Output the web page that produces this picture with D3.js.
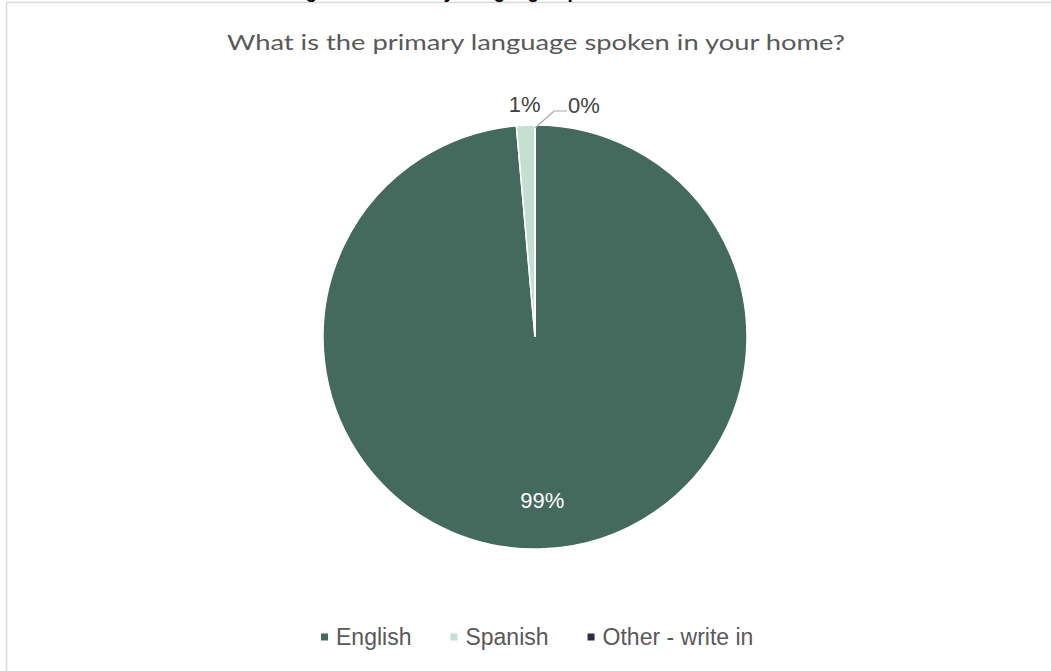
<!DOCTYPE html>
<html>
<head>
<meta charset="utf-8">
<script src="https://cdn.jsdelivr.net/npm/d3@7"></script>
<style>
  body { margin: 0; background: #fff; }
  svg { display: block; }
</style>
</head>
<body>
<svg id="chart"></svg>
<script>
const W = 1051, H = 671;

// data
const languages = ['English', 'Spanish', 'Other - write in'];
const shares = [98.6, 1.4, 0];
const pctLabels = ['99%', '1%', '0%'];
const colors = ['#44695d', '#c4dfd1', '#2c2d47'];

const titleText = 'Figure 14. Primary Language Spoken in the Home';
const subtitleText = 'What is the primary language spoken in your home?';

const cx = 535, cy = 337, radius = 212;

const svg = d3.select('#chart').attr('width', W).attr('height', H);

// chart frame (runs off the right and bottom)
svg.append('rect')
  .attr('x', 6.5).attr('y', 2.5)
  .attr('width', W + 20).attr('height', H + 20)
  .attr('fill', '#fff')
  .attr('stroke', '#d9d9d9')
  .attr('stroke-width', 1.5);

// report title sits above the crop, only descenders show
svg.append('text')
  .attr('x', 513).attr('y', -2)
  .attr('text-anchor', 'middle')
  .style('font-family', 'Liberation Sans, Arial, sans-serif')
  .style('font-weight', 'bold')
  .style('font-size', '19px')
  .attr('fill', '#000')
  .text(titleText);

svg.append('text')
  .attr('x', cx + 1).attr('y', 50)
  .attr('text-anchor', 'middle')
  .style('font-family', 'Lato, sans-serif')
  .style('font-size', '22px')
  .attr('fill', '#595959')
  .attr('textLength', 618)
  .attr('lengthAdjust', 'spacingAndGlyphs')
  .text(subtitleText);

const data = languages.map((name, i) => ({ name, value: shares[i], label: pctLabels[i], color: colors[i] }));

const pie = d3.pie().sort(null).value(d => d.value);
const arcs = pie(data);
const arc = d3.arc().innerRadius(0).outerRadius(radius);

const g = svg.append('g').attr('transform', `translate(${cx},${cy})`);

g.selectAll('path.slice')
  .data(arcs)
  .enter()
  .append('path')
  .attr('class', 'slice')
  .attr('d', arc)
  .attr('fill', d => d.data.color)
  .attr('stroke', '#fff')
  .attr('stroke-width', 1.5);

// labels
const insideArc = d3.arc().innerRadius(radius * 0.77).outerRadius(radius * 0.77);
const outsideArc = d3.arc().innerRadius(radius + 21).outerRadius(radius + 21);
const edgeArc = d3.arc().innerRadius(radius - 3).outerRadius(radius - 3);

const labelFont = 'Liberation Sans, Arial, sans-serif';

arcs.forEach((d, i) => {
  if (i === 0) {
    const [x, y] = insideArc.centroid(d);
    g.append('text')
      .attr('x', x).attr('y', y)
      .attr('text-anchor', 'middle')
      .attr('dominant-baseline', 'central')
      .style('font-family', labelFont)
      .style('font-size', '22px')
      .attr('fill', '#fff')
      .text(d.data.label);
  } else if (i === 1) {
    const [x, y] = outsideArc.centroid(d);
    g.append('text')
      .attr('x', x).attr('y', y)
      .attr('text-anchor', 'middle')
      .attr('dominant-baseline', 'central')
      .style('font-family', labelFont)
      .style('font-size', '22px')
      .attr('fill', '#404040')
      .text(d.data.label);
  } else {
    // zero slice, label pulled out with a leader line
    const [x0, y0] = edgeArc.centroid(d);
    const elbow = [x0 + 19, y0 - 17];
    const end = [x0 + 32, y0 - 17];
    g.append('polyline')
      .attr('points', [[x0, y0], elbow, end].map(p => p.join(',')).join(' '))
      .attr('fill', 'none')
      .attr('stroke', '#a6a6a6')
      .attr('stroke-width', 1.2);
    g.append('text')
      .attr('x', end[0] + 1).attr('y', end[1] - 6)
      .attr('dominant-baseline', 'central')
      .style('font-family', labelFont)
      .style('font-size', '22px')
      .attr('fill', '#404040')
      .text(d.data.label);
  }
});

// legend
const legend = svg.append('g').attr('transform', 'translate(0,637)');
let lx = 321;
data.forEach(d => {
  const item = legend.append('g').attr('transform', `translate(${lx},0)`);
  item.append('rect')
    .attr('x', 0).attr('y', -3.5)
    .attr('width', 7).attr('height', 7)
    .attr('fill', d.color);
  const t = item.append('text')
    .attr('x', 15).attr('y', 8)
    .style('font-family', labelFont)
    .style('font-size', '23px')
    .attr('fill', '#595959')
    .text(d.name);
  lx += 15 + t.node().getComputedTextLength() + 39;
});
</script>
</body>
</html>
